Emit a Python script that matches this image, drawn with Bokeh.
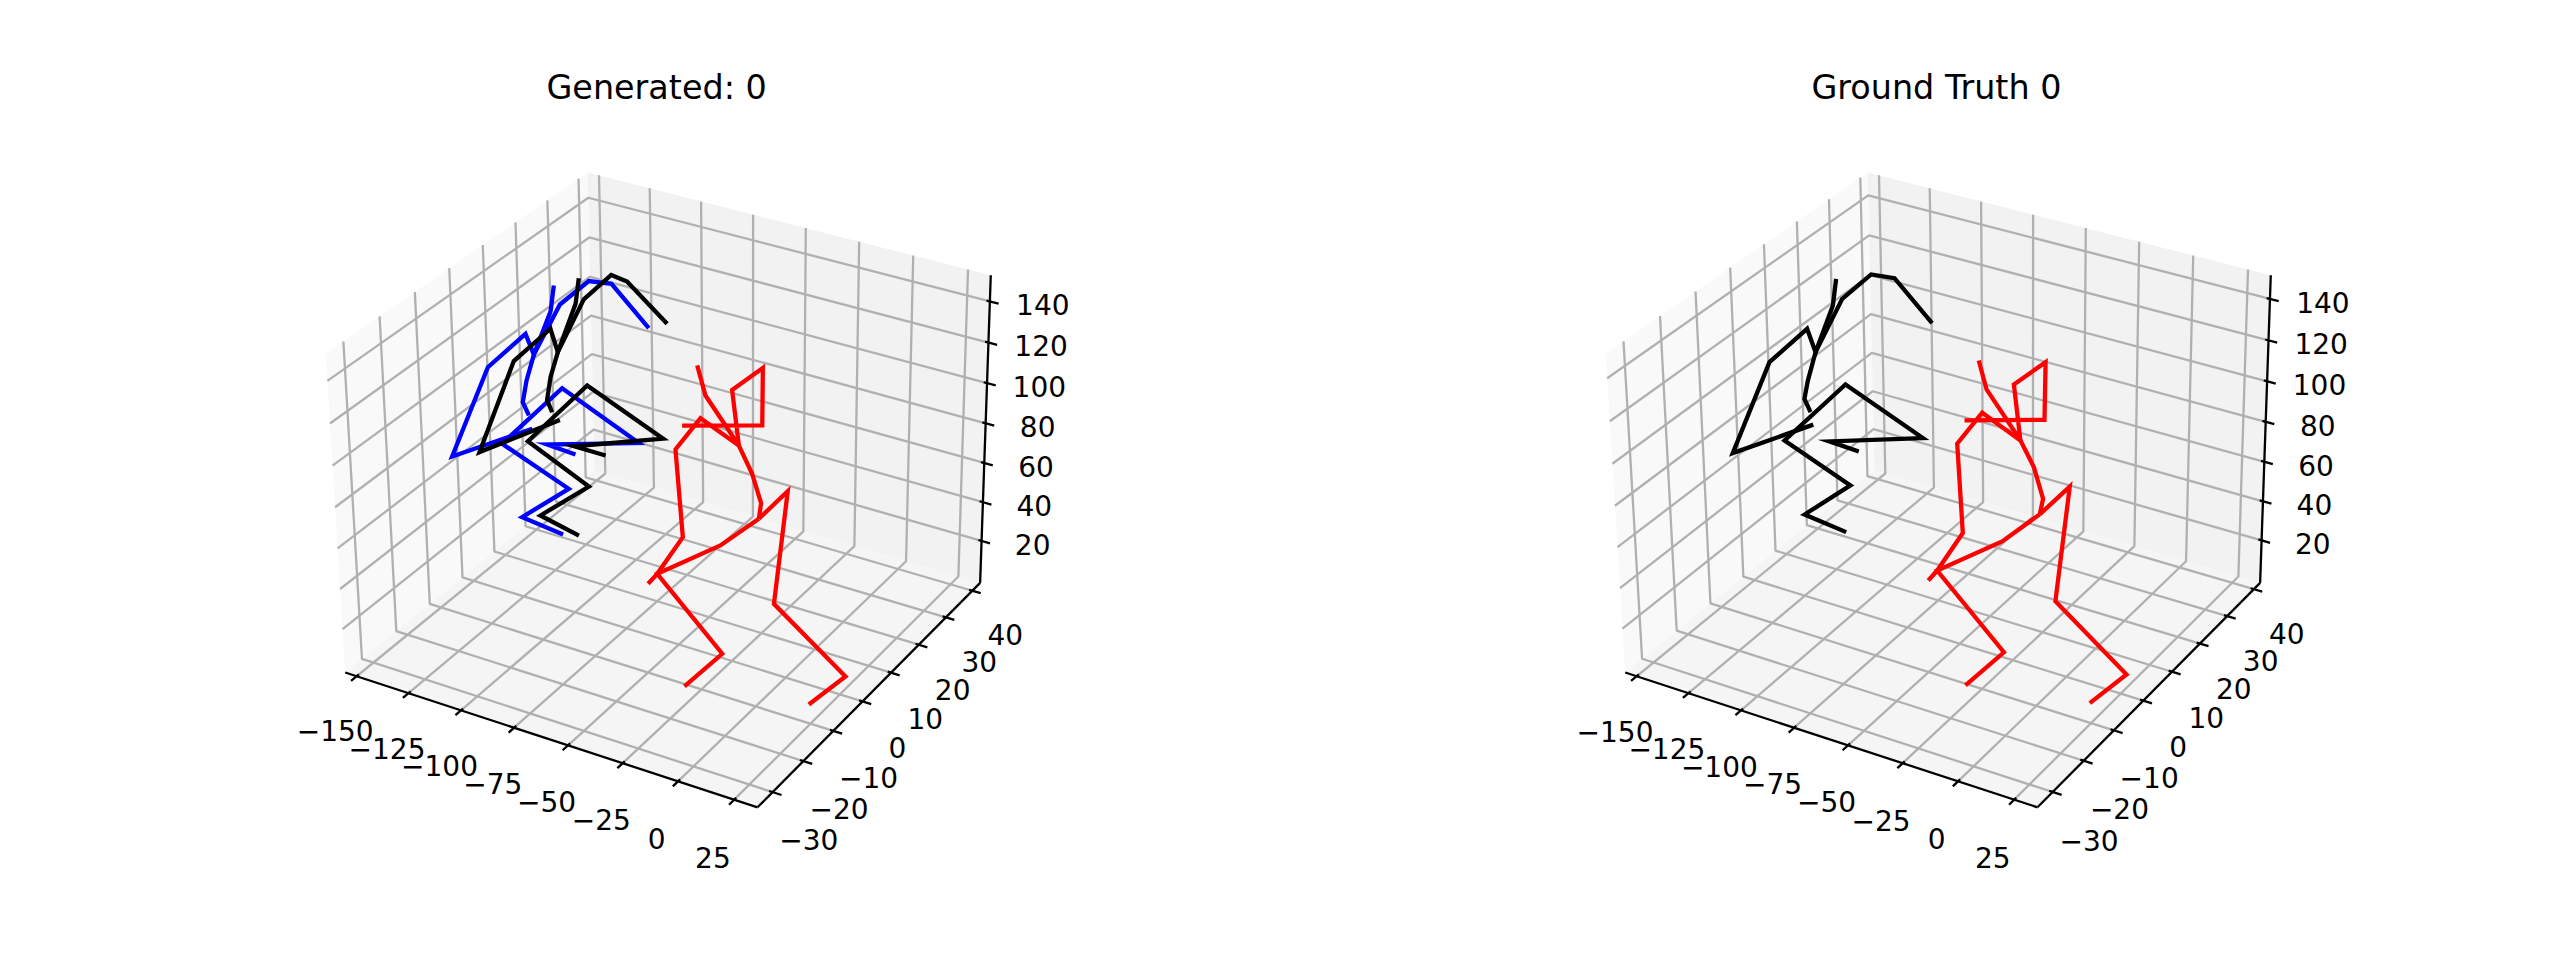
import numpy as np
from bokeh.embed import file_html
from bokeh.layouts import row
from bokeh.models import Range1d
from bokeh.plotting import figure
from bokeh.resources import INLINE

titles = ["Generated: 0", "Ground Truth 0"]
x_ticks = [-150, -125, -100, -75, -50, -25, 0, 25]
y_ticks = [-30, -20, -10, 0, 10, 20, 30, 40]
z_ticks = [20, 40, 60, 80, 100, 120, 140]
x_lim = (-155.6, 35.3)
y_lims = [(-34.8, 43.0), (-34.8, 42.4)]
z_lims = [(-1.9, 152.6), (-2.0, 151.3)]

# Depth cannot be read from a single view: every joint is taken at this y value.
joint_y = 0.0

gen_blue_x = [[-63.2,-80.1,-90.5,-104.0,-116.6,-120.3,-122.3,-119.5],
              [-106.7,-108.4,-116.6,-120.4,-138.7,-157.3,-118.0],
              [-97.6,-111.0,-67.9,-103.5,-132.7,-101.0,-123.7,-104.0]]
gen_blue_z = [[150.9,167.1,165.5,150.5,122.6,108.8,97.5,91.7],
              [158.8,146.0,122.6,131.6,109.9,59.4,85.5],
              [79.0,79.8,93.9,110.0,73.5,60.7,39.0,36.5]]
gen_black_x = [[-54.9,-73.0,-80.2,-92.9,-105.3,-108.9,-110.7,-108.4],
               [-95.1,-96.7,-105.3,-108.6,-126.2,-143.8,-104.8],
               [-83.4,-98.3,-56.7,-91.7,-120.2,-91.4,-114.8,-96.4]]
gen_black_z = [[155.4,170.2,171.3,156.1,127.1,113.8,102.1,96.7],
               [165.6,152.9,127.1,137.5,116.6,65.8,94.0],
               [82.9,82.9,99.5,114.9,78.6,64.9,42.7,38.4]]
gen_red_x = [[-41.3,-37.5,-22.3,-16.2,-12.0,-12.9],
             [-48.0,-12.0,-12.1,-25.6,-22.3],
             [-22.3,-39.7,-51.0,-47.5,-59.4,-63.7],
             [-12.9,-30.2,-59.4,-28.9,-46.5],
             [-12.9,-0.2,-5.5,27.4,11.2]]
gen_red_z = [[139.6,126.3,106.8,95.0,82.0,74.0],
             [108.6,119.7,147.1,132.6,106.8],
             [106.8,114.7,96.0,53.6,31.1,24.6],
             [74.0,55.1,31.1,0.5,-22.7],
             [74.0,91.6,34.0,8.6,-11.5]]
gt_black_x = [[-62.1,-79.1,-89.8,-103.3,-116.2,-120.1,-121.9,-119.1],
              [-106.0,-107.7,-116.2,-120.0,-138.3,-157.4,-117.9],
              [-96.4,-110.3,-66.4,-102.3,-131.9,-100.6,-122.9,-102.9]]
gt_black_z = [[152.0,168.3,167.1,151.8,122.5,107.5,98.0,92.3],
              [160.5,147.4,122.5,132.7,111.2,60.1,86.5],
              [79.8,80.5,95.6,110.9,74.3,61.6,39.8,37.3]]
gt_red_x = [[-41.0,-37.4,-22.0,-15.8,-11.5,-12.9],
            [-47.3,-11.4,-11.3,-25.2,-22.0],
            [-22.0,-39.3,-50.6,-47.9,-59.8,-64.0],
            [-12.9,-29.8,-59.8,-28.5,-46.4],
            [-12.9,0.3,-5.2,27.5,11.3]]
gt_red_z = [[140.5,127.8,108.1,97.1,83.1,75.1],
            [110.0,121.2,148.4,133.8,108.1],
            [108.1,116.1,97.7,54.6,31.9,25.5],
            [75.1,56.3,31.9,0.9,-22.5],
            [75.1,92.8,34.7,9.1,-11.2]]

# matplotlib 3D camera: elevation 30, azimuth -60, box aspect 4:4:3
aspect = np.array([4.0, 4.0, 3.0])
aspect = aspect * 1.8294640721620434 * 25 / 24 / np.linalg.norm(aspect)
el, az, dist = np.radians(30), np.radians(-60), 10.0
center = aspect / 2
w = np.array([np.cos(el) * np.cos(az), np.cos(el) * np.sin(az), np.sin(el)])
eye = center + dist * w
u = np.cross([0, 0, 1], w); u /= np.linalg.norm(u)
v = np.cross(w, u)


def plane(n):
    d = np.asarray(n, float) * aspect - eye
    ze = d @ w
    return (d @ u) / -ze, (d @ v) / -ze


# box corners on the page, used to place the projection
cal_cube = [(0,0,0),(1,0,0),(1,1,0),(1,1,1),(0,1,1),(0,0,1),(0,1,0)]
cal_px = [(342,672),(757,807),(978,582),(992,275),(583,172),(328,353),(598,470)]
P = np.array([plane(c) for c in cal_cube])
A = np.c_[P, np.ones(len(P))]
Cx = np.linalg.lstsq(A, np.array([c[0] for c in cal_px]), rcond=None)[0]
Cy = np.linalg.lstsq(A, np.array([c[1] for c in cal_px]), rcond=None)[0]

# projective camera of the box, solved directly from the same corners
rows = []
for (a, b, c), (pu, pv) in zip(cal_cube, cal_px):
    pu, pv = pu / 1000, pv / 1000
    rows.append([a, b, c, 1, 0, 0, 0, 0, -pu * a, -pu * b, -pu * c, -pu])
    rows.append([0, 0, 0, 0, a, b, c, 1, -pv * a, -pv * b, -pv * c, -pv])
box_cam = np.linalg.svd(np.array(rows, float))[2][-1].reshape(3, 4)


def normed(i, x, y, z):
    yl, zl = y_lims[i], z_lims[i]
    return ((x - x_lim[0]) / (x_lim[1] - x_lim[0]), (y - yl[0]) / (yl[1] - yl[0]), (z - zl[0]) / (zl[1] - zl[0]))


def make_joint_proj(i):
    def proj(x, y, z):
        a, b = plane(normed(i, x, y, z))
        return Cx[0] * a + Cx[1] * b + Cx[2] + 1280 * i, Cy[0] * a + Cy[1] * b + Cy[2]
    return proj


def make_box_proj(i):
    def proj(x, y, z):
        h = box_cam @ np.array([*normed(i, x, y, z), 1.0])
        return 1000 * h[0] / h[2] + 1280 * i, 1000 * h[1] / h[2]
    return proj


T = 106
W = 1280


def panel(i, title, offset, chains):
    proj = make_box_proj(i)
    joint_proj = make_joint_proj(i)
    yl, zl = y_lims[i], z_lims[i]
    xl = x_lim
    p = figure(width=W, height=950, output_backend="svg", toolbar_location=None,
               x_range=Range1d(W * i, W * (i + 1)), y_range=Range1d(950, T),
               min_border_left=0, min_border_right=0, min_border_bottom=0, min_border_top=T,
               outline_line_color=None, title=title)
    p.axis.visible = False
    p.grid.visible = False
    p.title.align = "left"
    p.title.offset = offset
    p.title.text_font = "DejaVu Sans"
    p.title.text_font_size = "33.4px"
    p.title.text_font_style = "normal"
    p.title.text_color = "#000000"
    p.title.standoff = 0

    def poly(points):
        pts = [proj(*q) for q in points]
        return [a for a, _ in pts], [b for _, b in pts]

    for pts, col in [
        ([(xl[0], yl[0], zl[0]), (xl[0], yl[1], zl[0]), (xl[0], yl[1], zl[1]), (xl[0], yl[0], zl[1])], "#f9f9f9"),
        ([(xl[0], yl[1], zl[0]), (xl[1], yl[1], zl[0]), (xl[1], yl[1], zl[1]), (xl[0], yl[1], zl[1])], "#f2f2f2"),
        ([(xl[0], yl[0], zl[0]), (xl[1], yl[0], zl[0]), (xl[1], yl[1], zl[0]), (xl[0], yl[1], zl[0])], "#f5f5f5"),
    ]:
        a, b = poly(pts)
        p.patch(a, b, fill_color=col, line_color=None)

    gx, gy = [], []
    for t in x_ticks:
        a, b = poly([(t, yl[0], zl[0]), (t, yl[1], zl[0]), (t, yl[1], zl[1])]); gx.append(a); gy.append(b)
    for t in y_ticks:
        a, b = poly([(xl[1], t, zl[0]), (xl[0], t, zl[0]), (xl[0], t, zl[1])]); gx.append(a); gy.append(b)
    for t in z_ticks:
        a, b = poly([(xl[0], yl[0], t), (xl[0], yl[1], t), (xl[1], yl[1], t)]); gx.append(a); gy.append(b)
    p.multi_line(gx, gy, line_color="#b0b0b0", line_width=2.3)

    ax, ay = [], []
    for seg in [[(xl[0], yl[0], zl[0]), (xl[1], yl[0], zl[0])],
                [(xl[1], yl[0], zl[0]), (xl[1], yl[1], zl[0])],
                [(xl[1], yl[1], zl[0]), (xl[1], yl[1], zl[1])]]:
        a, b = poly(seg); ax.append(a); ay.append(b)
    rx, ry = xl[1] - xl[0], yl[1] - yl[0]
    fi, fo = 0.008, 0.0207
    for t in x_ticks:
        a, b = poly([(t, yl[0] + fi * ry, zl[0]), (t, yl[0] - fo * ry, zl[0])]); ax.append(a); ay.append(b)
    for t in y_ticks:
        a, b = poly([(xl[1] - fi * rx, t, zl[0]), (xl[1] + fo * rx, t, zl[0])]); ax.append(a); ay.append(b)
    for t in z_ticks:
        a, b = poly([(xl[1] - fi * rx, yl[1], t), (xl[1] + fo * rx, yl[1], t)]); ax.append(a); ay.append(b)
    p.multi_line(ax, ay, line_color="#000000", line_width=2.3)

    lx, ly, lt = [], [], []
    for t in x_ticks:
        a, b = proj(t, yl[0] - 6.7, zl[0] - 17.8); lx.append(a); ly.append(b); lt.append(str(t).replace("-", "\u2212"))
    for t in y_ticks:
        a, b = proj(xl[1] + 16.1, t, zl[0] - 17.8); lx.append(a); ly.append(b); lt.append(str(t).replace("-", "\u2212"))
    for t in z_ticks:
        a, b = proj(xl[1] + 19.8, yl[1] + 3.4, t); lx.append(a); ly.append(b); lt.append(str(t))
    p.text(lx, ly, text=lt, text_align="center", text_baseline="middle",
           text_font={"value": "DejaVu Sans"}, text_font_size={"value": "28px"}, text_color="#000000")

    for col, xs, zs in chains:
        for cx, cz in zip(xs, zs):
            pts = [joint_proj(a, joint_y, b) for a, b in zip(cx, cz)]
            p.line([q[0] for q in pts], [q[1] for q in pts], line_color=col, line_width=4.3,
                   line_join="miter", line_cap="butt")
    return p


p1 = panel(0, titles[0], 546, [("#0000ff", gen_blue_x, gen_blue_z),
                               ("#000000", gen_black_x, gen_black_z),
                               ("#ff0000", gen_red_x, gen_red_z)])
p2 = panel(1, titles[1], 531, [("#000000", gt_black_x, gt_black_z),
                               ("#ff0000", gt_red_x, gt_red_z)])
open("out.html", "w").write(file_html(row(p1, p2, spacing=0), INLINE))
